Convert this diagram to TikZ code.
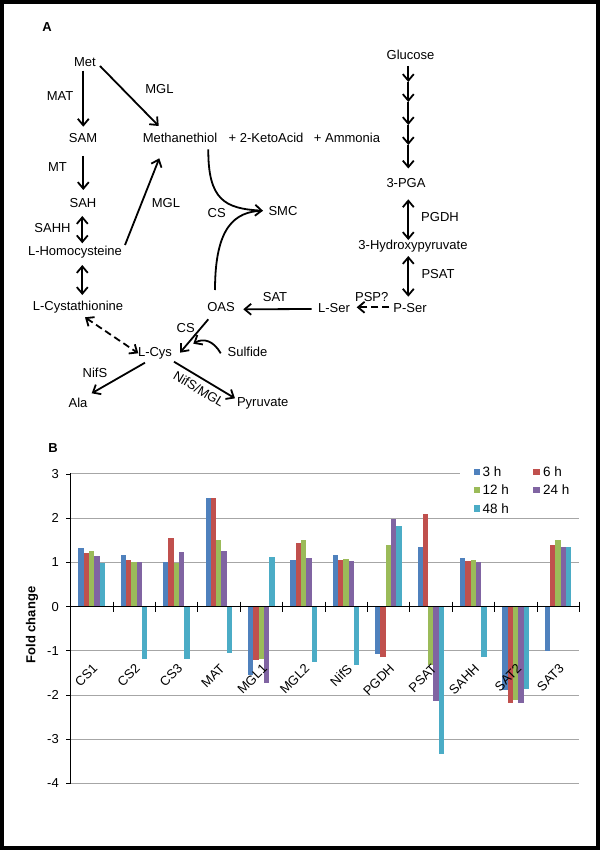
\documentclass[tikz,border=0pt]{standalone}
\usepackage{fontspec}
\setmainfont{Liberation Sans}
\usetikzlibrary{arrows.meta,calc}
\definecolor{cblue}{HTML}{4F81BD}
\definecolor{cred}{HTML}{C0504D}
\definecolor{cgreen}{HTML}{9BBB59}
\definecolor{cpurple}{HTML}{8064A2}
\definecolor{ccyan}{HTML}{4BACC6}
\definecolor{gridgray}{HTML}{A6A6A6}
\tikzset{
  lbl/.style={inner sep=0pt, text height=9.4pt, text depth=0pt, font=\fontsize{13}{15}\selectfont},
  panel/.style={inner sep=0pt, font=\fontsize{13}{15}\selectfont\bfseries},
  barb/.tip={Straight Barb[length=6.5pt,width=11pt]},
  arr/.style={line width=1.8pt, -barb},
  darr/.style={line width=1.8pt, barb-barb},
  plain/.style={line width=1.8pt},
  dsh/.style={dash pattern=on 7pt off 4pt},
  gridln/.style={draw=gridgray, line width=1pt},
  axisln/.style={draw=black, line width=1pt},
  ticklbl/.style={inner sep=0pt, anchor=east, font=\fontsize{13}{15}\selectfont},
  catlbl/.style={inner sep=0pt, anchor=north east, rotate=45, font=\fontsize{13}{15}\selectfont},
  leglbl/.style={inner sep=0pt, anchor=west, font=\fontsize{13.5}{15}\selectfont},
}
\begin{document}
\begin{tikzpicture}[x=1pt,y=-1pt]
\fill[white] (0,0) rectangle (600,850);
\useasboundingbox (0,0) rectangle (600,850);

% ---------------- Panel A ----------------
\node[panel] (pA) at (47,27) {A};
\node[lbl] (met) at (85,62) {Met};
\node[lbl] (matl) at (60,96) {MAT};
\node[lbl] (sam) at (83,138) {SAM};
\node[lbl] (meth) at (180,138) {Methanethiol};
\node[lbl] (mgla) at (159.5,89) {MGL};
\node[lbl] (keto) at (266,138) {+ 2-KetoAcid};
\node[lbl] (ammo) at (347,138) {+ Ammonia};
\node[lbl] (mtl) at (57.5,167) {MT};
\node[lbl] (sah) at (83,203) {SAH};
\node[lbl] (mglb) at (166,203) {MGL};
\node[lbl] (sahhl) at (52.5,228) {SAHH};
\node[lbl] (hcy) at (75,251) {L-Homocysteine};
\node[lbl] (cysta) at (78,306) {L-Cystathionine};
\node[lbl] (oas) at (221,306.5) {OAS};
\node[lbl] (satl) at (275,297) {SAT};
\node[lbl] (lser) at (334,308) {L-Ser};
\node[lbl] (psp) at (371.7,296.7) {PSP?};
\node[lbl] (pser) at (410,308) {P-Ser};
\node[lbl] (smc) at (283,210.7) {SMC};
\node[lbl] (csa) at (216.7,213) {CS};
\node[lbl] (glc) at (410.5,55) {Glucose};
\node[lbl] (pga) at (406,182.7) {3-PGA};
\node[lbl] (pgdhl) at (440,216.7) {PGDH};
\node[lbl] (hp) at (413,245) {3-Hydroxypyruvate};
\node[lbl] (psatl) at (438,274) {PSAT};
\node[lbl] (lcys) at (155,351.7) {L-Cys};
\node[lbl] (csb) at (185.7,327.3) {CS};
\node[lbl] (sulf) at (247.5,351.7) {Sulfide};
\node[lbl] (nifsl) at (95,372.7) {NifS};
\node[lbl] (ala) at (78,403) {Ala};
\node[lbl] (pyr) at (262.7,402) {Pyruvate};
\node[lbl, rotate=-31] (nifmgl) at (199,389) {NifS/MGL};

\draw[arr] ($(met)+(-1.7,8.7)$) -- ($(sam)+(0.3,-11.3)$);
\draw[arr] ($(met)+(15,4)$) -- ($(meth)+(-21.3,-12)$);
\draw[arr] ($(sam)+(0.3,18)$) -- ($(sah)+(0.3,-13)$);
\draw[darr] ($(sah)+(-0.7,13)$) -- ($(hcy)+(7.3,-7.7)$);
\draw[arr] ($(hcy)+(50,-6)$) -- ($(meth)+(-20.7,20.3)$);
\draw[darr] ($(hcy)+(7.3,14)$) -- ($(cysta)+(4.3,-11)$);
\draw[arr] ($(meth)+(28.3,11.3)$) .. controls ($(meth)+(28,62)$) and ($(smc)+(-58,-2)$) .. ($(smc)+(-20,0)$);
\draw[plain] ($(oas)+(-6,-16.5)$) .. controls ($(oas)+(-6,-80)$) and ($(smc)+(-48,1)$) .. ($(smc)+(-21,0)$);
\draw[arr] ($(lser)+(-22.3,1)$) -- ($(oas)+(22.3,2.8)$);
\draw[arr, dsh] ($(pser)+(-20.7,-0.7)$) -- ($(lser)+(22.7,-0.7)$);
% glucose chain
\coordinate (g1) at (408.3,82);
\coordinate (g2) at (408.3,102);
\coordinate (g3) at (408.3,125);
\coordinate (g4) at (408.3,145);
\draw[arr] ($(glc)+(-2.2,11)$) -- (g1);
\draw[arr] (g1) -- (g2);
\draw[arr] (g2) -- (g3);
\draw[arr] (g3) -- (g4);
\draw[arr] (g4) -- ($(pga)+(2.3,-14.2)$);
\draw[darr] ($(pga)+(2.3,16.6)$) -- ($(hp)+(-4.7,-5)$);
\draw[darr] ($(hp)+(-4.7,11)$) -- ($(pser)+(-1.7,-11.3)$);
\draw[darr, dsh] ($(cysta)+(7,11.3)$) -- ($(lcys)+(-16.7,1.6)$);
\draw[arr] ($(oas)+(-12.7,12.8)$) -- ($(lcys)+(25,1)$);
\draw[arr] ($(sulf)+(-26.8,1.6)$) .. controls ($(sulf)+(-34,-11)$) and ($(sulf)+(-44,-14)$) .. ($(sulf)+(-54.2,-8)$);
\draw[arr] ($(lcys)+(-10,11)$) -- ($(ala)+(13.7,-9.7)$);
\draw[arr] ($(lcys)+(19,10)$) -- ($(pyr)+(-27.7,-3.7)$);

% ---------------- Panel B ----------------
\node[panel] (pB) at (53,448) {B};
% gridlines
\draw[gridln] (70.7,473.3) -- (460,473.3);
\foreach \v in {2,1,-1,-2,-3,-4}{
  \draw[gridln] (70.7,{606.7-44.2*\v}) -- (579.3,{606.7-44.2*\v});
}
% bars
\foreach \k/\nm/\va/\vb/\vc/\vd/\ve in {
  0/CS1/1.33/1.21/1.27/1.15/0.99,
  1/CS2/1.18/1.05/1.01/1.01/-1.18,
  2/CS3/1.01/1.56/0.99/1.23/-1.18,
  3/MAT/2.47/2.47/1.52/1.25/-1.04,
  4/MGL1/-1.55/-1.2/-1.18/-1.73/1.13,
  5/MGL2/1.05/1.45/1.51/1.11/-1.24,
  6/NifS/1.18/1.05/1.08/1.03/-1.32,
  7/PGDH/-1.06/-1.13/1.40/1.99/1.82,
  8/PSAT/1.35/2.10/-1.32/-2.13/-3.34,
  9/SAHH/1.11/1.03/1.05/1.01/-1.13,
  10/SAT2/-1.88/-2.17/-2.11/-2.17/-1.87,
  11/SAT3/-1.0/1.40/1.52/1.34/1.36}{
  \pgfmathsetmacro{\xs}{70.7+42.4*\k+7.6}
  \foreach \v/\col [count=\j from 0] in {\va/cblue,\vb/cred,\vc/cgreen,\vd/cpurple,\ve/ccyan}{
    \pgfmathsetmacro{\xl}{\xs+5.33*\j}
    \fill[\col] (\xl,606.7) rectangle ({\xl+5.33},{606.7-44.2*\v});
  }
  \node[catlbl] (cat\k) at ({70.7+42.4*\k+21.2},663) {\nm};
}
% axes
\draw[axisln] (70.7,473.3) -- (70.7,783.3);
\draw[axisln] (70.7,606.7) -- (579.3,606.7);
\foreach \v in {3,2,1,0,-1,-2,-3,-4}{
  \draw[axisln] (66.2,{606.7-44.2*\v}) -- (70.7,{606.7-44.2*\v});
  \node[ticklbl] (yt\v) at (59,{606.7-44.2*\v}) {\v};
}
\foreach \k in {1,...,12}{
  \draw[axisln] ({70.7+42.4*\k},601.7) -- ({70.7+42.4*\k},611.7);
}
\node[inner sep=0pt, rotate=90, font=\fontsize{13}{15}\selectfont\bfseries] (ylab) at (32,625) {Fold change};
% legend
\fill[cblue] (473.8,468.5) rectangle (480.3,475);
\node[leglbl] (l3) at (482.5,471.7) {3 h};
\fill[cred] (533.1,468.5) rectangle (539.6,475);
\node[leglbl] (l6) at (543,471.7) {6 h};
\fill[cgreen] (473.8,486.8) rectangle (480.3,493.3);
\node[leglbl] (l12) at (482.5,490) {12 h};
\fill[cpurple] (533.1,486.8) rectangle (539.6,493.3);
\node[leglbl] (l24) at (543,490) {24 h};
\fill[ccyan] (473.8,505.1) rectangle (480.3,511.6);
\node[leglbl] (l48) at (482.5,508.3) {48 h};

% frame
\draw[line width=4pt] (2,2) rectangle (598,848);
\end{tikzpicture}
\end{document}
